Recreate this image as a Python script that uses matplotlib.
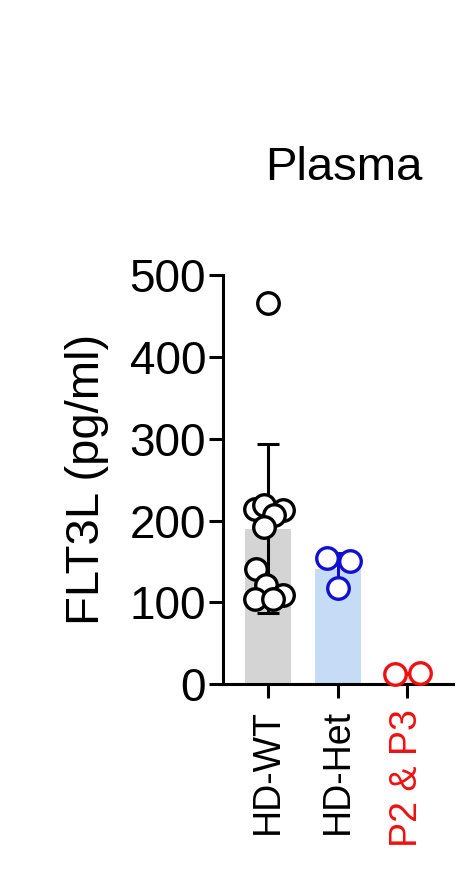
import numpy as np
import matplotlib
matplotlib.use('Agg')
import matplotlib.pyplot as plt

plt.rcParams['font.family'] = ['Liberation Sans', 'DejaVu Sans']

groups = ['HD-WT', 'HD-Het', 'P2 & P3']
wt_vals = [466, 214, 219, 213, 207, 192, 141, 121, 104, 109, 104]
het_vals = [154, 150, 117]
pt_vals = [13, 14]
# horizontal jitter of the dots inside each group (visual spread, in bar units)
wt_jit = [0.0, -0.19, -0.06, 0.21, 0.08, -0.06, -0.17, -0.03, -0.19, 0.21, 0.07]
het_jit = [-0.15, 0.18, 0.0]
pt_jit = [-0.17, 0.18]

bar_colors = ['#d4d4d4', '#c6dbf6', '#fbe3e3']
edge_colors = ['black', '#1010d0', '#ee1111']
label_colors = ['black', 'black', '#ee1111']

all_vals = [wt_vals, het_vals, pt_vals]
all_jit = [wt_jit, het_jit, pt_jit]

fig = plt.figure(figsize=(4.74, 8.76), dpi=100)
ax = fig.add_axes([0.470, 0.219, 0.486, 0.467])

x = np.arange(len(groups))
for i, vals in enumerate(all_vals):
    m = np.mean(vals)
    sd = np.std(vals, ddof=1)
    ax.bar(x[i], m, width=0.66, color=bar_colors[i], zorder=1)
    ax.errorbar(x[i], m, yerr=sd, color=edge_colors[i], lw=2.2, capsize=8,
                capthick=2.2, zorder=2)
    ax.plot(x[i] + np.array(all_jit[i]), vals, 'o', ms=15.5, mfc='white',
            mec=edge_colors[i], mew=2.4, zorder=3, clip_on=False)

ax.set_xlim(-0.65, 2.66)
ax.set_ylim(0, 500)
ax.set_yticks([0, 100, 200, 300, 400, 500])
ax.set_xticks(x)
ax.set_xticklabels(groups, rotation=90, fontsize=27)
for lab, c in zip(ax.get_xticklabels(), label_colors):
    lab.set_color(c)
ax.tick_params(axis='y', labelsize=33, width=2.2, length=10, pad=2)
ax.tick_params(axis='x', width=2.2, length=10, pad=8)
for s in ['top', 'right']:
    ax.spines[s].set_visible(False)
for s in ['left', 'bottom']:
    ax.spines[s].set_linewidth(2.2)

ax.set_ylabel('FLT3L (pg/ml)', fontsize=34, labelpad=15)
fig.text(0.725, 0.808, 'Plasma', fontsize=34, ha='center', va='center')

plt.savefig('out.png', dpi=100)
